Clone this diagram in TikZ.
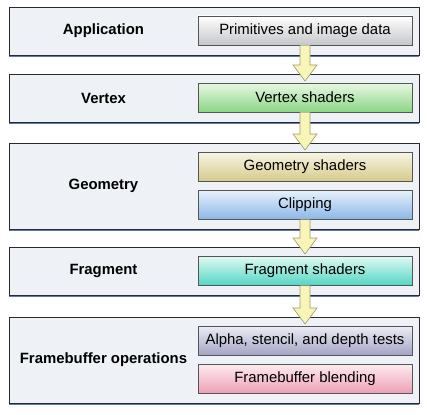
\documentclass[tikz,border=0pt]{standalone}
\usepackage{fontspec}
\setmainfont{Liberation Sans}
\usetikzlibrary{calc,shadows}
\definecolor{stagefill}{HTML}{EEF2F7}
\definecolor{stageline}{HTML}{2A2A2A}
\definecolor{stageshadow}{HTML}{5A78B8}
\definecolor{innershadow}{HTML}{3A4A80}
\definecolor{arrowfill}{HTML}{F9F5B6}
\definecolor{arrowline}{HTML}{9C9A72}
\begin{document}
\begin{tikzpicture}[x=1pt,y=-1pt,
  stage/.style={draw=stageline, line width=0.9pt, fill=stagefill,
    minimum width=410pt, inner sep=0pt, outer sep=0pt,
    drop shadow={shadow xshift=0pt, shadow yshift=-1.6pt, fill=stageshadow, opacity=1}},
  stagelabel/.style={font=\fontsize{14.9}{17}\selectfont\bfseries, inner sep=0pt},
  substep/.style={draw=stageline!80, line width=0.7pt, minimum width=214pt,
    minimum height=29pt, inner sep=0pt, outer sep=0pt,
    font=\fontsize{14.9}{17}\selectfont,
    drop shadow={shadow xshift=0pt, shadow yshift=-1.4pt, fill=innershadow, opacity=1}},
  fatarrow/.style={fill=arrowfill, draw=arrowline, line width=0.6pt, line join=miter}
]
\useasboundingbox (0,0) rectangle (427,414);
\fill[white] (0,0) rectangle (427,414);

% stages
\node[stage, minimum height=48pt] (app) at (214,31) {};
\node[stage, minimum height=48pt] (vert) at (214,98) {};
\node[stage, minimum height=86pt] (geom) at (214,186) {};
\node[stage, minimum height=48pt] (frag) at (214,271) {};
\node[stage, minimum height=86pt] (fbop) at (214,360) {};

\node[stagelabel] (appL) at (103.5,31) {Application};
\node[stagelabel] (vertL) at (103.5,98) {Vertex};
\node[stagelabel] (geomL) at (103.5,186) {Geometry};
\node[stagelabel] (fragL) at (103.5,271) {Fragment};
\node[stagelabel] (fbopL) at (103.5,360) {Framebuffer operations};

% sub steps
\node[substep, top color=white, bottom color={rgb,255:red,196;green,198;blue,202}] (prim) at (305,30.5) {Primitives and image data};
\node[substep, top color={rgb,255:red,232;green,248;blue,228}, bottom color={rgb,255:red,138;green,214;blue,132}] (vsh) at (305,97.5) {Vertex shaders};
\node[substep, top color={rgb,255:red,248;green,245;blue,228}, bottom color={rgb,255:red,214;green,202;blue,140}] (gsh) at (305,166.5) {Geometry shaders};
\node[substep, top color={rgb,255:red,232;green,242;blue,252}, bottom color={rgb,255:red,140;green,184;blue,230}] (clip) at (305,204.5) {Clipping};
\node[substep, top color={rgb,255:red,226;green,250;blue,244}, bottom color={rgb,255:red,84;green,214;blue,196}] (fsh) at (305,270.5) {Fragment shaders};
\node[substep, top color={rgb,255:red,236;green,236;blue,244}, bottom color={rgb,255:red,164;green,164;blue,196}] (tests) at (305,340.5) {Alpha, stencil, and depth tests};
\node[substep, top color={rgb,255:red,252;green,236;blue,240}, bottom color={rgb,255:red,238;green,160;blue,182}] (blend) at (305,378.5) {Framebuffer blending};

% fat arrows
\foreach \s/\t in {prim/vsh, vsh/gsh, clip/fsh, fsh/tests}{
  \draw[fatarrow]
    ($(\s.south)+(-5,0.5)$) -- ($(\t.north)+(-5,-18)$) -- ($(\t.north)+(-12,-18)$)
    -- ($(\t.north)+(0,-2)$) -- ($(\t.north)+(12,-18)$) -- ($(\t.north)+(5,-18)$)
    -- ($(\s.south)+(5,0.5)$);
}
\end{tikzpicture}
\end{document}
